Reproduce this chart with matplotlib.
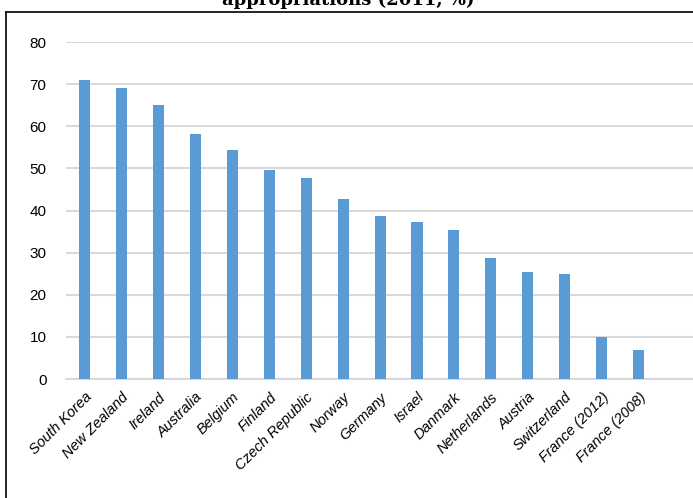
import matplotlib
matplotlib.use("Agg")
import matplotlib.pyplot as plt
from matplotlib.lines import Line2D

countries = ['South Korea', 'New Zealand', 'Ireland', 'Australia', 'Belgium', 'Finland',
             'Czech Republic', 'Norway', 'Germany', 'Israel', 'Danmark', 'Netherlands',
             'Austria', 'Switzerland', 'France (2012)', 'France (2008)']
shares = [71.0, 69.1, 65.0, 58.1, 54.3, 49.6, 47.6, 42.8, 38.6, 37.3, 35.3, 28.8,
          25.5, 25.0, 10.0, 7.0]
yticks = [0, 10, 20, 30, 40, 50, 60, 70, 80]

fig = plt.figure(figsize=(6.93, 4.98), dpi=100)
ax = fig.add_axes([66 / 693, 1 - 379 / 498, 1 - 66 / 693, (379 - 42) / 498])

x = range(len(countries))
ax.bar(x, shares, width=0.3, color='#5b9bd5', zorder=3)

ax.set_ylim(0, 80)
ax.set_xlim(-0.5, 16.47)
ax.set_yticks(yticks)
ax.set_yticklabels([str(v) for v in yticks], fontsize=11, family='Liberation Sans')
ax.set_xticks(list(x))
ax.set_xticklabels(countries, rotation=45, ha='right', rotation_mode='anchor',
                   fontsize=10.5, style='italic', family='Liberation Sans')
ax.tick_params(axis='both', length=0)
ax.tick_params(axis='y', pad=14)
ax.tick_params(axis='x', pad=8)
ax.yaxis.grid(True, color='#d9d9d9', linewidth=1.5, zorder=0)
for side in ['left', 'right', 'top']:
    ax.spines[side].set_visible(False)
ax.spines['bottom'].set_color('#d9d9d9')
ax.spines['bottom'].set_linewidth(1.5)

# chart frame (cropped on the right and bottom)
fig.add_artist(Line2D([6 / 693, 1], [1 - 12 / 498, 1 - 12 / 498], color='black', linewidth=1.2))
fig.add_artist(Line2D([6 / 693, 6 / 693], [0, 1 - 12 / 498], color='black', linewidth=1.2))

# title, partly cut off at the top as in the original
fig.text(348 / 693, 1 - 5 / 498, 'appropriations (2011, %)', ha='center', va='baseline',
         fontsize=13, fontweight='bold', family='DejaVu Serif')

fig.savefig('out.png', dpi=100)
